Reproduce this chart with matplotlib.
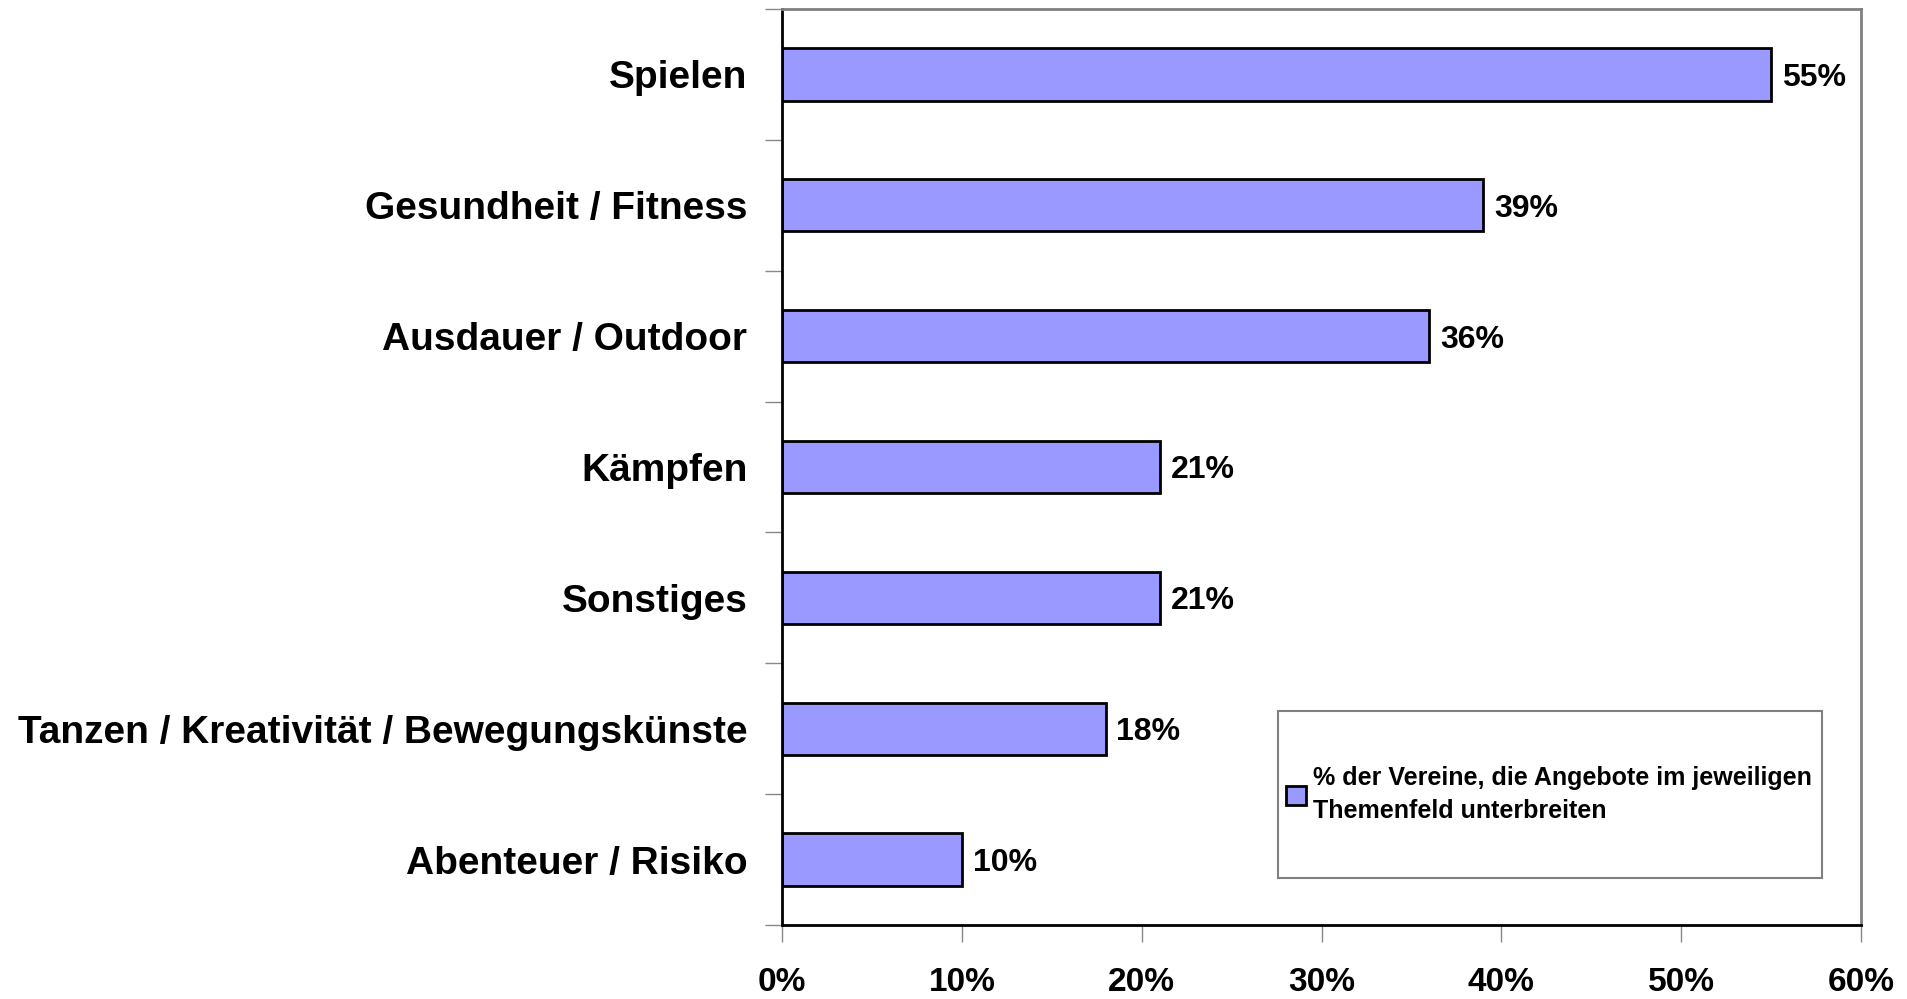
import matplotlib
matplotlib.use("Agg")
import matplotlib.pyplot as plt
from matplotlib.patches import Rectangle
from matplotlib.ticker import FuncFormatter

categories = ["Spielen", "Gesundheit / Fitness", "Ausdauer / Outdoor", "Kämpfen",
              "Sonstiges", "Tanzen / Kreativität / Bewegungskünste", "Abenteuer / Risiko"]
values = [55, 39, 36, 21, 21, 18, 10]
xticks = [0, 10, 20, 30, 40, 50, 60]
legend_label = "% der Vereine, die Angebote im jeweiligen\nThemenfeld unterbreiten"

plt.rcParams['font.family'] = ['Liberation Sans', 'DejaVu Sans']
plt.rcParams['font.weight'] = 'bold'

W, H = 1907, 999
fig = plt.figure(figsize=(W / 100, H / 100), dpi=100)
ax = fig.add_axes([782 / W, 1 - 925 / H, (1861 - 782) / W, (925 - 9) / H])

y = list(range(len(categories)))
ax.barh(y, values, height=0.4, color="#9999ff", edgecolor="black", linewidth=2,
        label=legend_label)
ax.set_ylim(len(categories) - 0.5, -0.5)
ax.set_xlim(0, 60)

# value labels
for yi, v in zip(y, values):
    ax.text(v + 0.6, yi, f"{v}%", va="center_baseline", ha="left", fontsize=23, fontweight="bold")

ax.set_yticks(y)
ax.set_yticklabels(categories, fontsize=28, fontweight="bold")
ax.tick_params(axis="y", length=0, pad=25)
ax.set_yticks([i + 0.5 for i in range(-1, len(categories))], minor=True)
ax.tick_params(axis="y", which="minor", length=12, width=1, color="#888888")

ax.set_xticks(xticks)
ax.xaxis.set_major_formatter(FuncFormatter(lambda v, p: f"{int(v)}%"))
ax.tick_params(axis="x", length=12, width=1, color="#888888", labelsize=24, pad=18)
for lbl in ax.get_xticklabels():
    lbl.set_fontweight("bold")

ax.spines["left"].set_linewidth(2)
ax.spines["bottom"].set_linewidth(2)
for s in ["top", "right"]:
    ax.spines[s].set_color("#808080")
    ax.spines[s].set_linewidth(2)

# legend box
lx0, ly0, lx1, ly1 = 1278, 711, 1822, 878
box = (lx0 / W, 1 - ly1 / H, (lx1 - lx0) / W, (ly1 - ly0) / H)
ax.add_patch(Rectangle(box[:2], box[2], box[3], transform=fig.transFigure,
                       facecolor="white", edgecolor="#808080", linewidth=1.5,
                       zorder=3, clip_on=False))
leg = ax.legend(loc="center left", bbox_to_anchor=box,
                bbox_transform=fig.transFigure, fontsize=18, frameon=False,
                handlelength=0.8, handleheight=0.8, handletextpad=0.3,
                borderaxespad=0, borderpad=0.3)
leg.get_texts()[0].set_linespacing(1.45)
leg.set_zorder(4)

fig.savefig("out.png", dpi=100)
